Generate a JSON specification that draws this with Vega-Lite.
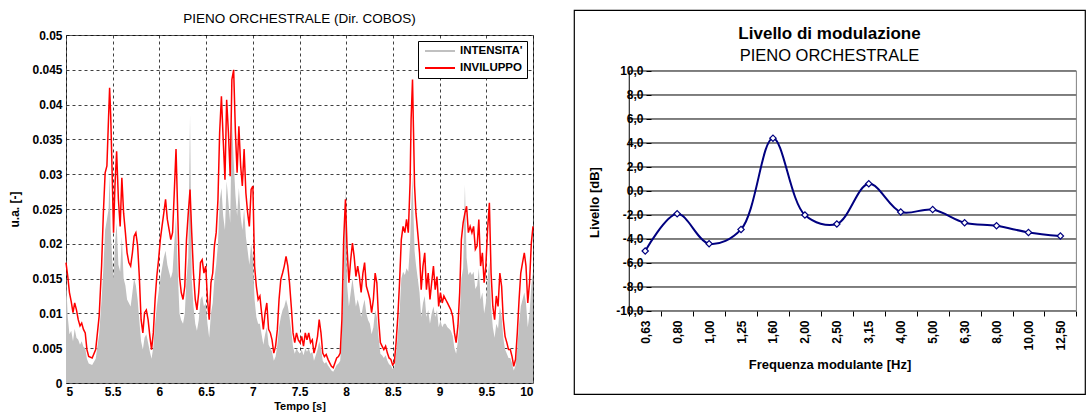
{
"$schema": "https://vega.github.io/schema/vega-lite/v6.json",
"background": "white",
"padding": {"left": 8, "top": 9, "right": 5, "bottom": 0},
"spacing": 30,
"resolve": {"legend": {"color": "independent"}, "scale": {"color": "independent"}},
"config": {
  "font": "Liberation Sans",
  "axis": {"labelColor": "black", "titleColor": "black"},
  "title": {"color": "black", "subtitleColor": "black"}
},
"datasets": {
  "env": [
{"t":5.000,"env":0.0173,"int":0.0150},{"t":5.019,"env":0.0153,"int":0.0095},{"t":5.037,"env":0.0130,"int":0.0070},{"t":5.056,"env":0.0117,"int":0.0075},{"t":5.075,"env":0.0101,"int":0.0060},{"t":5.093,"env":0.0115,"int":0.0078},{"t":5.112,"env":0.0105,"int":0.0065},{"t":5.131,"env":0.0091,"int":0.0062},{"t":5.150,"env":0.0082,"int":0.0055},{"t":5.168,"env":0.0086,"int":0.0060},{"t":5.187,"env":0.0077,"int":0.0052},{"t":5.206,"env":0.0072,"int":0.0050},{"t":5.224,"env":0.0048,"int":0.0035},{"t":5.243,"env":0.0038,"int":0.0028},{"t":5.280,"env":0.0036,"int":0.0026},{"t":5.318,"env":0.0048,"int":0.0035},{"t":5.355,"env":0.0096,"int":0.0070},{"t":5.381,"env":0.0168,"int":0.0120},{"t":5.400,"env":0.0244,"int":0.0165},{"t":5.419,"env":0.0302,"int":0.0220},{"t":5.438,"env":0.0312,"int":0.0235},{"t":5.456,"env":0.0383,"int":0.0250},{"t":5.467,"env":0.0424,"int":0.0300},{"t":5.479,"env":0.0383,"int":0.0220},{"t":5.494,"env":0.0302,"int":0.0180},{"t":5.509,"env":0.0216,"int":0.0150},{"t":5.524,"env":0.0283,"int":0.0200},{"t":5.542,"env":0.0333,"int":0.0230},{"t":5.561,"env":0.0264,"int":0.0170},{"t":5.580,"env":0.0225,"int":0.0160},{"t":5.598,"env":0.0295,"int":0.0210},{"t":5.617,"env":0.0244,"int":0.0150},{"t":5.636,"env":0.0216,"int":0.0140},{"t":5.654,"env":0.0187,"int":0.0120},{"t":5.673,"env":0.0173,"int":0.0115},{"t":5.692,"env":0.0168,"int":0.0110},{"t":5.711,"env":0.0187,"int":0.0130},{"t":5.729,"env":0.0211,"int":0.0150},{"t":5.748,"env":0.0216,"int":0.0140},{"t":5.767,"env":0.0197,"int":0.0120},{"t":5.785,"env":0.0153,"int":0.0090},{"t":5.804,"env":0.0091,"int":0.0060},{"t":5.823,"env":0.0072,"int":0.0048},{"t":5.841,"env":0.0101,"int":0.0065},{"t":5.860,"env":0.0105,"int":0.0070},{"t":5.879,"env":0.0091,"int":0.0058},{"t":5.898,"env":0.0067,"int":0.0045},{"t":5.916,"env":0.0048,"int":0.0035},{"t":5.935,"env":0.0072,"int":0.0052},{"t":5.954,"env":0.0120,"int":0.0085},{"t":5.972,"env":0.0153,"int":0.0110},{"t":5.991,"env":0.0177,"int":0.0130},{"t":6.010,"env":0.0206,"int":0.0150},{"t":6.028,"env":0.0225,"int":0.0165},{"t":6.047,"env":0.0244,"int":0.0180},{"t":6.066,"env":0.0264,"int":0.0190},{"t":6.085,"env":0.0235,"int":0.0170},{"t":6.103,"env":0.0221,"int":0.0160},{"t":6.122,"env":0.0206,"int":0.0150},{"t":6.141,"env":0.0216,"int":0.0160},{"t":6.159,"env":0.0273,"int":0.0200},{"t":6.178,"env":0.0336,"int":0.0240},{"t":6.197,"env":0.0240,"int":0.0160},{"t":6.215,"env":0.0153,"int":0.0100},{"t":6.234,"env":0.0130,"int":0.0090},{"t":6.253,"env":0.0120,"int":0.0085},{"t":6.272,"env":0.0139,"int":0.0100},{"t":6.290,"env":0.0206,"int":0.0150},{"t":6.309,"env":0.0244,"int":0.0180},{"t":6.328,"env":0.0278,"int":0.0385},{"t":6.346,"env":0.0216,"int":0.0150},{"t":6.365,"env":0.0158,"int":0.0110},{"t":6.384,"env":0.0120,"int":0.0085},{"t":6.402,"env":0.0105,"int":0.0075},{"t":6.421,"env":0.0130,"int":0.0090},{"t":6.440,"env":0.0173,"int":0.0120},{"t":6.458,"env":0.0177,"int":0.0125},{"t":6.477,"env":0.0158,"int":0.0110},{"t":6.496,"env":0.0168,"int":0.0115},{"t":6.515,"env":0.0120,"int":0.0085},{"t":6.533,"env":0.0091,"int":0.0065},{"t":6.552,"env":0.0144,"int":0.0100},{"t":6.571,"env":0.0158,"int":0.0115},{"t":6.589,"env":0.0197,"int":0.0150},{"t":6.608,"env":0.0216,"int":0.0170},{"t":6.627,"env":0.0264,"int":0.0200},{"t":6.645,"env":0.0360,"int":0.0260},{"t":6.664,"env":0.0412,"int":0.0280},{"t":6.683,"env":0.0350,"int":0.0240},{"t":6.702,"env":0.0292,"int":0.0220},{"t":6.720,"env":0.0407,"int":0.0290},{"t":6.739,"env":0.0360,"int":0.0260},{"t":6.758,"env":0.0297,"int":0.0230},{"t":6.776,"env":0.0436,"int":0.0380},{"t":6.795,"env":0.0450,"int":0.0320},{"t":6.814,"env":0.0360,"int":0.0270},{"t":6.832,"env":0.0302,"int":0.0240},{"t":6.851,"env":0.0369,"int":0.0280},{"t":6.870,"env":0.0312,"int":0.0240},{"t":6.888,"env":0.0283,"int":0.0220},{"t":6.907,"env":0.0336,"int":0.0250},{"t":6.926,"env":0.0273,"int":0.0210},{"t":6.945,"env":0.0244,"int":0.0190},{"t":6.963,"env":0.0225,"int":0.0170},{"t":6.982,"env":0.0278,"int":0.0200},{"t":7.001,"env":0.0283,"int":0.0180},{"t":7.019,"env":0.0168,"int":0.0120},{"t":7.038,"env":0.0139,"int":0.0095},{"t":7.057,"env":0.0120,"int":0.0085},{"t":7.076,"env":0.0125,"int":0.0085},{"t":7.094,"env":0.0101,"int":0.0070},{"t":7.113,"env":0.0077,"int":0.0055},{"t":7.132,"env":0.0101,"int":0.0070},{"t":7.150,"env":0.0115,"int":0.0080},{"t":7.169,"env":0.0077,"int":0.0055},{"t":7.188,"env":0.0072,"int":0.0050},{"t":7.206,"env":0.0062,"int":0.0045},{"t":7.225,"env":0.0043,"int":0.0032},{"t":7.244,"env":0.0053,"int":0.0038},{"t":7.263,"env":0.0077,"int":0.0055},{"t":7.281,"env":0.0120,"int":0.0080},{"t":7.300,"env":0.0149,"int":0.0095},{"t":7.319,"env":0.0158,"int":0.0105},{"t":7.337,"env":0.0168,"int":0.0110},{"t":7.356,"env":0.0182,"int":0.0120},{"t":7.375,"env":0.0168,"int":0.0110},{"t":7.393,"env":0.0144,"int":0.0095},{"t":7.412,"env":0.0110,"int":0.0075},{"t":7.431,"env":0.0072,"int":0.0052},{"t":7.449,"env":0.0058,"int":0.0042},{"t":7.468,"env":0.0072,"int":0.0050},{"t":7.487,"env":0.0062,"int":0.0045},{"t":7.506,"env":0.0058,"int":0.0042},{"t":7.524,"env":0.0067,"int":0.0048},{"t":7.543,"env":0.0053,"int":0.0040},{"t":7.562,"env":0.0072,"int":0.0050},{"t":7.580,"env":0.0062,"int":0.0045},{"t":7.599,"env":0.0072,"int":0.0050},{"t":7.618,"env":0.0058,"int":0.0042},{"t":7.637,"env":0.0062,"int":0.0045},{"t":7.655,"env":0.0043,"int":0.0032},{"t":7.674,"env":0.0053,"int":0.0040},{"t":7.693,"env":0.0067,"int":0.0048},{"t":7.711,"env":0.0091,"int":0.0060},{"t":7.730,"env":0.0072,"int":0.0050},{"t":7.749,"env":0.0043,"int":0.0032},{"t":7.767,"env":0.0038,"int":0.0028},{"t":7.786,"env":0.0041,"int":0.0030},{"t":7.805,"env":0.0034,"int":0.0025},{"t":7.823,"env":0.0029,"int":0.0022},{"t":7.842,"env":0.0024,"int":0.0018},{"t":7.861,"env":0.0022,"int":0.0016},{"t":7.880,"env":0.0029,"int":0.0021},{"t":7.898,"env":0.0036,"int":0.0026},{"t":7.917,"env":0.0038,"int":0.0028},{"t":7.936,"env":0.0043,"int":0.0032},{"t":7.954,"env":0.0091,"int":0.0070},{"t":7.973,"env":0.0206,"int":0.0150},{"t":7.992,"env":0.0264,"int":0.0285},{"t":8.010,"env":0.0192,"int":0.0140},{"t":8.029,"env":0.0144,"int":0.0110},{"t":8.048,"env":0.0177,"int":0.0130},{"t":8.067,"env":0.0201,"int":0.0150},{"t":8.085,"env":0.0182,"int":0.0130},{"t":8.104,"env":0.0153,"int":0.0110},{"t":8.123,"env":0.0168,"int":0.0120},{"t":8.141,"env":0.0153,"int":0.0110},{"t":8.160,"env":0.0130,"int":0.0095},{"t":8.179,"env":0.0158,"int":0.0110},{"t":8.197,"env":0.0173,"int":0.0120},{"t":8.216,"env":0.0139,"int":0.0100},{"t":8.235,"env":0.0130,"int":0.0090},{"t":8.254,"env":0.0120,"int":0.0085},{"t":8.272,"env":0.0101,"int":0.0070},{"t":8.291,"env":0.0120,"int":0.0080},{"t":8.310,"env":0.0158,"int":0.0105},{"t":8.328,"env":0.0144,"int":0.0095},{"t":8.347,"env":0.0091,"int":0.0065},{"t":8.366,"env":0.0058,"int":0.0042},{"t":8.384,"env":0.0053,"int":0.0040},{"t":8.403,"env":0.0048,"int":0.0036},{"t":8.422,"env":0.0053,"int":0.0040},{"t":8.441,"env":0.0043,"int":0.0032},{"t":8.459,"env":0.0036,"int":0.0027},{"t":8.478,"env":0.0034,"int":0.0025},{"t":8.497,"env":0.0026,"int":0.0020},{"t":8.515,"env":0.0029,"int":0.0022},{"t":8.534,"env":0.0058,"int":0.0042},{"t":8.553,"env":0.0096,"int":0.0070},{"t":8.571,"env":0.0144,"int":0.0100},{"t":8.590,"env":0.0206,"int":0.0150},{"t":8.609,"env":0.0225,"int":0.0160},{"t":8.628,"env":0.0216,"int":0.0155},{"t":8.646,"env":0.0235,"int":0.0165},{"t":8.665,"env":0.0216,"int":0.0160},{"t":8.684,"env":0.0288,"int":0.0200},{"t":8.695,"env":0.0379,"int":0.0250},{"t":8.710,"env":0.0436,"int":0.0300},{"t":8.721,"env":0.0360,"int":0.0240},{"t":8.732,"env":0.0283,"int":0.0190},{"t":8.747,"env":0.0244,"int":0.0170},{"t":8.766,"env":0.0216,"int":0.0150},{"t":8.785,"env":0.0187,"int":0.0130},{"t":8.803,"env":0.0134,"int":0.0095},{"t":8.822,"env":0.0168,"int":0.0115},{"t":8.841,"env":0.0187,"int":0.0125},{"t":8.859,"env":0.0134,"int":0.0095},{"t":8.878,"env":0.0158,"int":0.0105},{"t":8.897,"env":0.0120,"int":0.0085},{"t":8.915,"env":0.0144,"int":0.0100},{"t":8.934,"env":0.0168,"int":0.0110},{"t":8.953,"env":0.0134,"int":0.0095},{"t":8.972,"env":0.0153,"int":0.0105},{"t":8.990,"env":0.0110,"int":0.0080},{"t":9.009,"env":0.0130,"int":0.0090},{"t":9.028,"env":0.0115,"int":0.0080},{"t":9.046,"env":0.0125,"int":0.0085},{"t":9.065,"env":0.0120,"int":0.0085},{"t":9.084,"env":0.0115,"int":0.0080},{"t":9.102,"env":0.0110,"int":0.0078},{"t":9.121,"env":0.0105,"int":0.0075},{"t":9.140,"env":0.0096,"int":0.0068},{"t":9.159,"env":0.0072,"int":0.0050},{"t":9.177,"env":0.0058,"int":0.0042},{"t":9.196,"env":0.0082,"int":0.0060},{"t":9.215,"env":0.0130,"int":0.0090},{"t":9.233,"env":0.0206,"int":0.0150},{"t":9.252,"env":0.0230,"int":0.0165},{"t":9.271,"env":0.0244,"int":0.0285},{"t":9.289,"env":0.0254,"int":0.0180},{"t":9.308,"env":0.0216,"int":0.0155},{"t":9.327,"env":0.0225,"int":0.0160},{"t":9.346,"env":0.0216,"int":0.0155},{"t":9.364,"env":0.0225,"int":0.0160},{"t":9.383,"env":0.0192,"int":0.0135},{"t":9.402,"env":0.0197,"int":0.0140},{"t":9.420,"env":0.0235,"int":0.0165},{"t":9.439,"env":0.0168,"int":0.0120},{"t":9.458,"env":0.0187,"int":0.0130},{"t":9.477,"env":0.0144,"int":0.0100},{"t":9.495,"env":0.0168,"int":0.0115},{"t":9.514,"env":0.0221,"int":0.0150},{"t":9.533,"env":0.0259,"int":0.0175},{"t":9.551,"env":0.0158,"int":0.0110},{"t":9.570,"env":0.0110,"int":0.0080},{"t":9.589,"env":0.0091,"int":0.0065},{"t":9.607,"env":0.0125,"int":0.0085},{"t":9.626,"env":0.0110,"int":0.0078},{"t":9.645,"env":0.0158,"int":0.0110},{"t":9.664,"env":0.0139,"int":0.0095},{"t":9.682,"env":0.0091,"int":0.0065},{"t":9.701,"env":0.0067,"int":0.0048},{"t":9.720,"env":0.0058,"int":0.0042},{"t":9.738,"env":0.0048,"int":0.0036},{"t":9.757,"env":0.0048,"int":0.0036},{"t":9.776,"env":0.0038,"int":0.0028},{"t":9.794,"env":0.0024,"int":0.0018},{"t":9.813,"env":0.0034,"int":0.0025},{"t":9.832,"env":0.0072,"int":0.0050},{"t":9.851,"env":0.0120,"int":0.0085},{"t":9.869,"env":0.0158,"int":0.0110},{"t":9.888,"env":0.0173,"int":0.0120},{"t":9.907,"env":0.0187,"int":0.0130},{"t":9.925,"env":0.0168,"int":0.0115},{"t":9.944,"env":0.0115,"int":0.0080},{"t":9.963,"env":0.0144,"int":0.0100},{"t":9.982,"env":0.0201,"int":0.0140},{"t":10.000,"env":0.0225,"int":0.0160}
  ],
  "mod": [
    {"f":"0,63","v":-5.0},{"f":"0,80","v":-1.9},{"f":"1,00","v":-4.4},{"f":"1,25","v":-3.2},{"f":"1,60","v":4.4},{"f":"2,00","v":-2.0},{"f":"2,50","v":-2.75},{"f":"3,15","v":0.6},{"f":"4,00","v":-1.75},{"f":"5,00","v":-1.55},{"f":"6,30","v":-2.65},{"f":"8,00","v":-2.9},{"f":"10,00","v":-3.45},{"f":"12,50","v":-3.75}
  ],
  "grid": [
    {"g":-10},{"g":-8},{"g":-6},{"g":-4},{"g":-2},{"g":0},{"g":2},{"g":4},{"g":6},{"g":8},{"g":10}
  ],
  "one": [{"k":1}]
},
"hconcat": [
  {"vconcat": [
    {
      "width": 1, "height": 1,
      "view": {"stroke": null},
      "data": {"name": "one"},
      "mark": {"type": "point", "size": 0, "opacity": 0},
      "encoding": {}
    },
    {
      "width": 467, "height": 348,
      "view": {"stroke": "#555555", "strokeWidth": 1},
      "title": {"text": "PIENO ORCHESTRALE (Dir. COBOS)", "fontSize": 13.5, "fontWeight": "normal", "offset": 4, "anchor": "middle"},
      "data": {"name": "env"},
      "encoding": {
        "x": {"field": "t", "type": "quantitative", "scale": {"domain": [5, 10], "nice": false, "zero": false},
          "axis": {"values": [5,5.5,6,6.5,7,7.5,8,8.5,9,9.5,10], "format": "~g", "labelFontWeight": "bold", "labelFontSize": 12, "labelPadding": 3, "labelOverlap": false, "ticks": false, "domain": false, "grid": true, "gridDash": [3,3], "gridColor": "black", "gridOpacity": 0.75, "title": "Tempo [s]", "titleFontSize": 11, "titleFontWeight": "bold", "titlePadding": 3}}
      },
      "layer": [
        {"mark": {"type": "area", "opacity": 1},
         "encoding": {
           "y": {"field": "int", "type": "quantitative", "scale": {"domain": [0, 0.05], "nice": false},
             "axis": {"values": [0,0.005,0.01,0.015,0.02,0.025,0.03,0.035,0.04,0.045,0.05], "format": ".3~f", "labelFontWeight": "bold", "labelFontSize": 12, "labelPadding": 4, "labelOverlap": false, "ticks": false, "domain": false, "grid": true, "gridDash": [3,3], "gridColor": "black", "gridOpacity": 0.75, "title": "u.a. [-]", "titleFontSize": 12, "titleFontWeight": "bold", "titlePadding": 10}},
           "color": {"datum": "INTENSITA'", "type": "nominal",
             "scale": {"domain": ["INTENSITA'", "INVILUPPO"], "range": ["#c0c0c0", "#ff0000"]},
             "legend": {"title": null, "orient": "top-right", "offset": 6, "symbolType": "M-3,0L3,0", "symbolSize": 100, "symbolOffset": 12, "labelOffset": 14, "symbolStrokeWidth": 2, "labelFontSize": 11.5, "labelFontWeight": "bold", "labelColor": "black", "strokeColor": "black", "fillColor": "white", "padding": 4, "rowPadding": 5,
               "encode": {"symbols": {"update": {"stroke": {"scale": "color", "field": "value"}, "fill": {"value": "transparent"}}}}}}
         }},
        {"mark": {"type": "line", "strokeWidth": 1.5},
         "encoding": {
           "y": {"field": "env", "type": "quantitative", "scale": {"domain": [0, 0.05], "nice": false},
             "axis": {"values": [0,0.005,0.01,0.015,0.02,0.025,0.03,0.035,0.04,0.045,0.05], "format": ".3~f", "labelFontWeight": "bold", "labelFontSize": 12, "labelPadding": 4, "labelOverlap": false, "ticks": false, "domain": false, "grid": true, "gridDash": [3,3], "gridColor": "black", "gridOpacity": 0.75, "title": "u.a. [-]", "titleFontSize": 12, "titleFontWeight": "bold", "titlePadding": 10}},
           "color": {"datum": "INVILUPPO", "type": "nominal"}
         }}
      ]
    }
  ], "spacing": 0, "resolve": {"legend": {"color": "independent"}, "scale": {"color": "independent"}}},
  {"vconcat": [
    {
      "width": 511, "height": 384,
      "view": {"stroke": "black", "strokeWidth": 1.2},
      "title": {"text": "Livello di modulazione", "subtitle": "PIENO ORCHESTRALE", "fontSize": 17, "fontWeight": "bold", "subtitleFontSize": 16.5, "subtitleFontWeight": "normal", "subtitlePadding": 5, "anchor": "middle", "offset": -55},
      "layer": [
        {"data": {"name": "grid"},
         "mark": {"type": "rule", "color": "black", "strokeWidth": 1},
         "encoding": {
           "y": {"field": "g", "type": "quantitative",
             "scale": {"domain": [-16.917, 15.083], "nice": false, "zero": false},
             "axis": {"orient": "left", "offset": -77, "values": [-10,-8,-6,-4,-2,0,2,4,6,8,10], "domain": false, "grid": false, "ticks": true, "tickSize": 5, "tickColor": "black", "labelExpr": "(datum.value < 0 ? '-' : '') + replace(format(abs(datum.value), '.1f'), '.', ',')", "labelFontWeight": "bold", "labelFontSize": 12, "labelPadding": 3, "labelOverlap": false, "title": "Livello [dB]", "titleFontSize": 13, "titleFontWeight": "bold", "titlePadding": 14}},
           "x": {"datum": "0,63", "type": "ordinal", "bandPosition": 0},
           "x2": {"datum": "12,50", "bandPosition": 1}
         }},
        {"data": {"name": "one"},
         "mark": {"type": "rule", "color": "black", "strokeWidth": 1},
         "encoding": {
           "x": {"datum": "0,63", "type": "ordinal", "bandPosition": 0},
           "y": {"datum": -10, "type": "quantitative",
             "axis": {"orient": "left", "offset": -77, "values": [-10,-8,-6,-4,-2,0,2,4,6,8,10], "domain": false, "grid": false, "ticks": true, "tickSize": 5, "tickColor": "black", "labelExpr": "(datum.value < 0 ? '-' : '') + replace(format(abs(datum.value), '.1f'), '.', ',')", "labelFontWeight": "bold", "labelFontSize": 12, "labelPadding": 3, "labelOverlap": false, "title": "Livello [dB]", "titleFontSize": 13, "titleFontWeight": "bold", "titlePadding": 14}},
           "y2": {"datum": 10}
         }},
        {"data": {"name": "one"},
         "mark": {"type": "rule", "color": "#808080", "strokeWidth": 1},
         "encoding": {
           "x": {"datum": "12,50", "type": "ordinal", "bandPosition": 1},
           "y": {"datum": -10, "type": "quantitative",
             "axis": {"orient": "left", "offset": -77, "values": [-10,-8,-6,-4,-2,0,2,4,6,8,10], "domain": false, "grid": false, "ticks": true, "tickSize": 5, "tickColor": "black", "labelExpr": "(datum.value < 0 ? '-' : '') + replace(format(abs(datum.value), '.1f'), '.', ',')", "labelFontWeight": "bold", "labelFontSize": 12, "labelPadding": 3, "labelOverlap": false, "title": "Livello [dB]", "titleFontSize": 13, "titleFontWeight": "bold", "titlePadding": 14}},
           "y2": {"datum": 10}
         }},
        {"data": {"name": "mod"},
         "mark": {"type": "line", "color": "#000080", "strokeWidth": 2, "interpolate": "catmull-rom"},
         "encoding": {
           "x": {"field": "f", "type": "ordinal", "bandPosition": 0.5,
             "scale": {"type": "band", "domain": ["0,63","0,80","1,00","1,25","1,60","2,00","2,50","3,15","4,00","5,00","6,30","8,00","10,00","12,50"], "paddingInner": 0, "paddingOuter": 1.4765, "align": 0.865},
             "axis": {"orient": "bottom", "offset": -83, "tickBand": "extent", "domain": false, "ticks": true, "tickSize": 5, "tickColor": "black", "labelAngle": 270, "labelFontWeight": "bold", "labelFontSize": 12, "labelPadding": 4, "labelOverlap": false, "title": "Frequenza modulante [Hz]", "titleFontSize": 13, "titleFontWeight": "bold", "titlePadding": 8}},
           "y": {"field": "v", "type": "quantitative",
             "axis": {"orient": "left", "offset": -77, "values": [-10,-8,-6,-4,-2,0,2,4,6,8,10], "domain": false, "grid": false, "ticks": true, "tickSize": 5, "tickColor": "black", "labelExpr": "(datum.value < 0 ? '-' : '') + replace(format(abs(datum.value), '.1f'), '.', ',')", "labelFontWeight": "bold", "labelFontSize": 12, "labelPadding": 3, "labelOverlap": false, "title": "Livello [dB]", "titleFontSize": 13, "titleFontWeight": "bold", "titlePadding": 14}}
         }},
        {"data": {"name": "mod"},
         "mark": {"type": "point", "shape": "diamond", "filled": true, "fill": "white", "stroke": "#000080", "strokeWidth": 1.2, "size": 40, "opacity": 1},
         "encoding": {
           "x": {"field": "f", "type": "ordinal", "bandPosition": 0.5},
           "y": {"field": "v", "type": "quantitative",
             "axis": {"orient": "left", "offset": -77, "values": [-10,-8,-6,-4,-2,0,2,4,6,8,10], "domain": false, "grid": false, "ticks": true, "tickSize": 5, "tickColor": "black", "labelExpr": "(datum.value < 0 ? '-' : '') + replace(format(abs(datum.value), '.1f'), '.', ',')", "labelFontWeight": "bold", "labelFontSize": 12, "labelPadding": 3, "labelOverlap": false, "title": "Livello [dB]", "titleFontSize": 13, "titleFontWeight": "bold", "titlePadding": 14}}
         }}
      ]
    }
  ], "resolve": {"legend": {"color": "independent"}, "scale": {"color": "independent"}}}
]
}
